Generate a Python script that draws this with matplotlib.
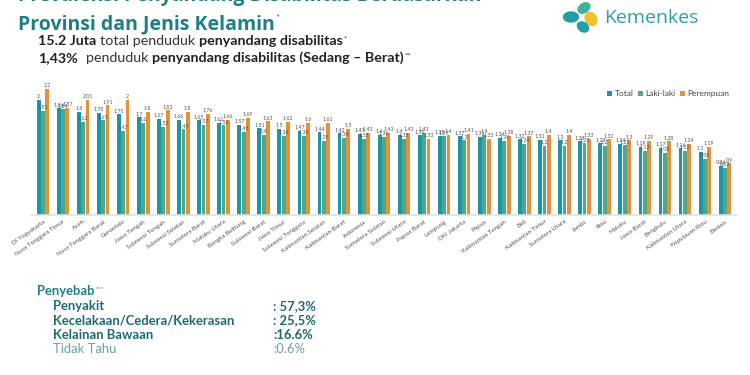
import matplotlib.pyplot as plt
import numpy as np
from matplotlib.patches import Ellipse

provinces = ['DI Yogyakarta', 'Nusa Tenggara Timur', 'Aceh', 'Nusa Tenggara Barat',
             'Gorontalo', 'Jawa Tengah', 'Sulawesi Tengah', 'Sulawesi Selatan',
             'Sumatera Barat', 'Maluku Utara', 'Bangka Belitung', 'Sulawesi Barat',
             'Jawa Timur', 'Sulawesi Tenggara', 'Kalimantan Selatan', 'Kalimantan Barat',
             'Indonesia', 'Sumatera Selatan', 'Sulawesi Utara', 'Papua Barat',
             'Lampung', 'DKI Jakarta', 'Papua', 'Kalimantan Tengah', 'Bali',
             'Kalimantan Timur', 'Sumatera Utara', 'Jambi', 'Riau', 'Maluku',
             'Jawa Barat', 'Bengkulu', 'Kalimantan Utara', 'Kepulauan Riau', 'Banten']
total = [2.00, 1.86, 1.80, 1.78, 1.75, 1.70, 1.67, 1.66, 1.65, 1.61, 1.57, 1.51,
         1.50, 1.47, 1.44, 1.42, 1.41, 1.40, 1.40, 1.39, 1.38, 1.37, 1.36, 1.34,
         1.32, 1.31, 1.30, 1.28, 1.25, 1.24, 1.19, 1.17, 1.16, 1.10, 0.86]
laki = [1.81, 1.84, 1.62, 1.65, 1.47, 1.60, 1.53, 1.49, 1.57, 1.56, 1.45, 1.40,
        1.38, 1.38, 1.29, 1.34, 1.33, 1.36, 1.33, 1.43, 1.37, 1.30, 1.40, 1.29,
        1.24, 1.20, 1.20, 1.25, 1.20, 1.21, 1.12, 1.08, 1.12, 0.98, 0.82]
perempuan = [2.20, 1.87, 2.01, 1.91, 2.00, 1.80, 1.82, 1.80, 1.76, 1.66, 1.69, 1.63,
             1.62, 1.60, 1.61, 1.50, 1.43, 1.43, 1.43, 1.33, 1.40, 1.41, 1.33, 1.38,
             1.37, 1.40, 1.40, 1.33, 1.32, 1.30, 1.29, 1.28, 1.24, 1.19, 0.90]
series_names = ['Total', 'Laki-laki', 'Perempuan']
series_colors = ['#1a96a7', '#4fa888', '#e2913c']

causes = ['Penyakit', 'Kecelakaan/Cedera/Kekerasan', 'Kelainan Bawaan', 'Tidak Tahu']
cause_values = [': 57,3%', ': 25,5%', ':16.6%', ':0.6%']

plt.rcParams['font.family'] = ['Lato', 'DejaVu Sans']

fig = plt.figure(figsize=(7.5, 3.75), dpi=100)
ax = fig.add_axes([31 / 750, 160 / 375, 706 / 750, 135 / 375])

x = np.arange(len(provinces))
w, off = 0.19, 0.215
for k, vals in enumerate([total, laki, perempuan]):
    bars = ax.bar(x + (k - 1) * off, vals, w, color=series_colors[k],
                  label=series_names[k])
    labs = [f'{v:g}'.replace('.', ',') for v in vals]
    ax.bar_label(bars, labels=labs, fontsize=3.8, color='#555555', padding=1)

ax.set_xlim(-0.6, 34.6)
ax.set_ylim(0, 2.35)
for s in ['top', 'right', 'left']:
    ax.spines[s].set_visible(False)
ax.spines['bottom'].set_color('#d5e6e8')
ax.spines['bottom'].set_linewidth(1.2)
ax.set_yticks([])
ax.set_xticks(x)
ax.set_xticklabels(provinces, rotation=35, ha='right', rotation_mode='anchor',
                   fontsize=4.5, color='#555555')
ax.tick_params(axis='x', length=0, pad=3)
ax.legend(loc='upper right', bbox_to_anchor=(1.0, 0.98), ncol=3, frameon=False,
          fontsize=6, handlelength=0.6, handleheight=0.6, handletextpad=0.25,
          columnspacing=0.6, labelcolor='#444444')

# overlay in pixel coordinates for the slide texts
ov = fig.add_axes([0, 0, 1, 1])
ov.set_xlim(0, 750)
ov.set_ylim(375, 0)
ov.axis('off')
ov.patch.set_alpha(0)
r = fig.canvas.get_renderer()

title_c = '#1f7f86'
ov.text(18, 1, 'Prevalensi Penyandang Disabilitas Berdasarkan', fontsize=14,
        fontweight='bold', color=title_c, va='baseline', family='Open Sans')
t = ov.text(18, 29, 'Provinsi dan Jenis Kelamin', fontsize=14, fontweight='bold',
            color=title_c, va='baseline', family='Open Sans')
bb = t.get_window_extent(r)
ov.text(bb.x1 + 1, 21, '*', fontsize=7, color=title_c, va='baseline')


def rich(xp, yp, parts, size):
    for s, bold, col, gap in parts:
        fs = size if s.strip('*') else size * 0.55
        yy = yp if s.strip('*') else yp - 2
        t = ov.text(xp, yy, s, fontsize=fs, fontweight='bold' if bold else 'normal',
                    color=col, va='center')
        xp = t.get_window_extent(r).x1 + gap


rich(38, 41, [('15.2 Juta', True, '#222222', 4),
              ('total penduduk', False, '#333333', 4),
              ('penyandang disabilitas', True, '#222222', 0.5),
              ('*', False, '#333333', 0)], 10.3)
rich(38, 58, [('1,43%', True, '#222222', 8),
              ('penduduk', False, '#333333', 4),
              ('penyandang disabilitas (Sedang \u2013 Berat)', True, '#222222', 0.5),
              ('**', False, '#333333', 0)], 10.3)

# logo
for (cx, cy, ew, eh, ang, col) in [(571, 17, 15, 10, 0, '#1f9fa9'),
                                   (584, 8, 13, 9, -35, '#3db39b'),
                                   (591, 19, 14, 11, 60, '#f2c12e'),
                                   (583, 27, 12, 9, 35, '#1f9fa9')]:
    ov.add_patch(Ellipse((cx, cy), ew, eh, angle=ang, color=col))
ov.text(604, 18, 'Kemenkes', fontsize=14, color='#2a9fa7', va='center',
        family='Open Sans')

# causes block
t = ov.text(37, 291, 'Penyebab', fontsize=9.4, fontweight='bold', color='#1f7f86',
            va='center')
bb = t.get_window_extent(r)
ov.text(bb.x1 + 1, 289, '***', fontsize=4.5, color='#1f7f86', va='center')
for i, (c, v) in enumerate(zip(causes, cause_values)):
    yy = 306 + 14.3 * i
    last = i == len(causes) - 1
    col = '#6e9fa4' if last else '#1d6b72'
    wt = 'normal' if last else 'bold'
    ov.text(53, yy, c, fontsize=9.4, fontweight=wt, color=col, va='center')
    ov.text(273, yy, v, fontsize=9.4, fontweight=wt, color=col, va='center')

fig.savefig('out.png', dpi=100)
